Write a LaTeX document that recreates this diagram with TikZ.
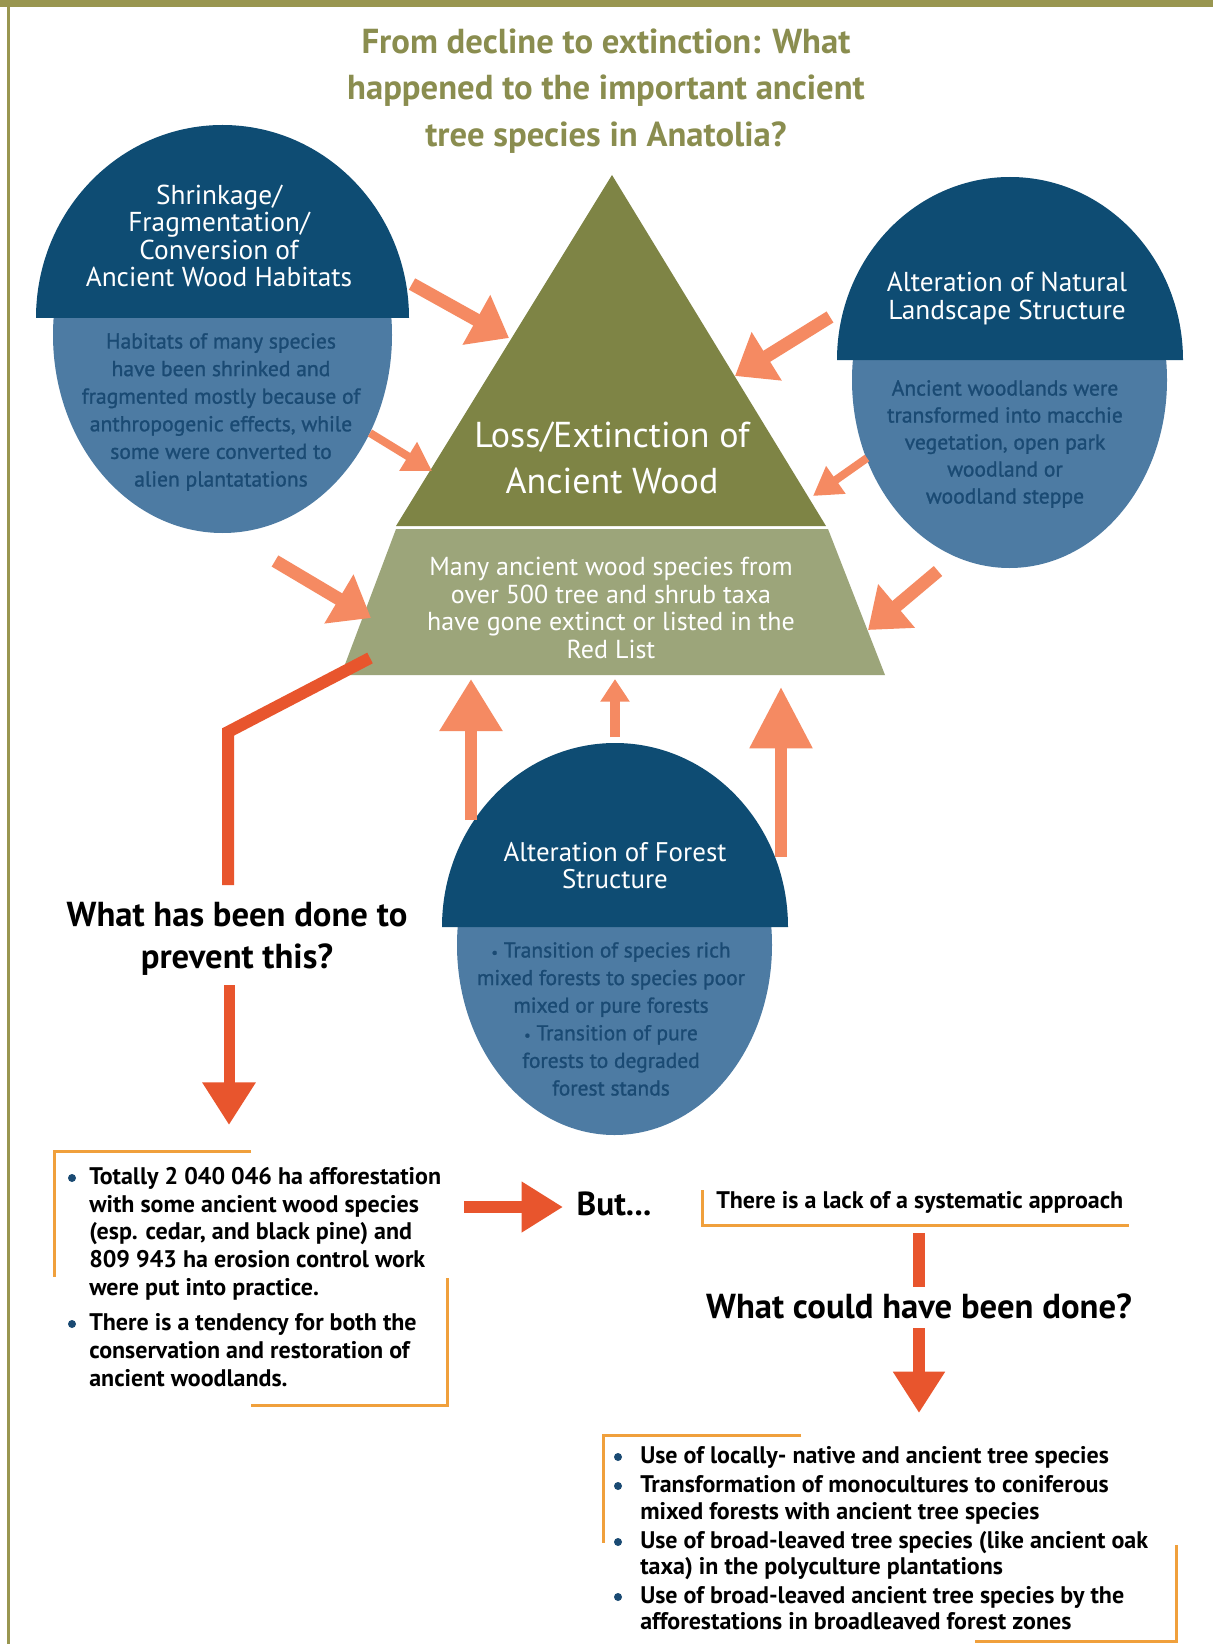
\documentclass[tikz,border=0pt]{standalone}
\usepackage{fontspec}
\setmainfont{PT Sans}
\newfontfamily\semib[FakeBold=1.2]{PT Sans}
\usetikzlibrary{arrows.meta}
\definecolor{frameol}{HTML}{999650}
\definecolor{titleol}{HTML}{8A8D4F}
\definecolor{trioldark}{HTML}{7E8445}
\definecolor{triollight}{HTML}{9CA57A}
\definecolor{domeblue}{HTML}{0E4C73}
\definecolor{ellblue}{HTML}{4D7BA3}
\definecolor{elltext}{HTML}{1A4A73}
\definecolor{salmon}{HTML}{F58A62}
\definecolor{redor}{HTML}{E8552D}
\definecolor{bracket}{HTML}{F0A03C}
\newcommand{\fs}[2]{\fontsize{#1}{#2}\selectfont}
\newcommand{\smbul}{{\fs{11pt}{11pt}•}}
\begin{document}
\begin{tikzpicture}[x=0.75pt,y=-0.75pt,
  txt/.style={inner sep=0pt, align=center},
  dometxt/.style={txt, text=white, font=\fs{20.5pt}{20.5pt}},
  elltxt/.style={txt, text=elltext, font=\semib\fs{16.2pt}{20.7pt}},
  blacktitle/.style={txt, text=black, font=\bfseries\fs{26pt}{31.5pt}},
  listline/.style={inner sep=0pt, anchor=base west, text=black, font=\bfseries\fs{18pt}{20pt}},
  bul/.style={circle, fill=elltext, inner sep=0pt, minimum size=6pt},
  bigsal/.style={draw=salmon, line width=9.75pt, -{Triangle[width=41pt,length=28pt]}},
  smallsal/.style={draw=salmon, line width=6pt, -{Triangle[width=24pt,length=21pt]}},
  upsal/.style={draw=salmon, line width=9pt, -{Triangle[width=45pt,length=39pt]}},
  redline/.style={draw=redor, line width=9pt, line join=miter},
  redarrow/.style={redline, -{Triangle[width=37pt,length=31pt]}},
  brk/.style={draw=bracket, line width=2.25pt}
]
\useasboundingbox (0,0) rectangle (1213,1644);
\fill[white] (0,0) rectangle (1213,1644);
% frame
\fill[frameol] (0,0) rectangle (1213,7.5);
\fill[frameol] (7,0) rectangle (10,1644);

% title
\node[txt, text=titleol, font=\bfseries\fs{26pt}{35pt}] (title) at (606,91)
  {From decline to extinction: What\\happened to the important ancient\\tree species in Anatolia?};

% central triangle and trapezoid
\fill[trioldark] (612,175) -- (826,526) -- (396,526) -- cycle;
\fill[triollight] (396,529) -- (828,529) -- (885,675) -- (341,675) -- cycle;
\node[txt, text=white, font=\fs{27pt}{35pt}] (loss) at (612,458) {Loss/Extinction of\\Ancient Wood};
\node[txt, text=white, font=\fs{19.5pt}{20.7pt}] (many) at (611,608)
  {Many ancient wood species from\\over 500 tree and shrub taxa\\have gone extinct or listed in the\\Red List};

% left group
\fill[ellblue] (222.5,335) ellipse[x radius=169.5, y radius=198];
\fill[domeblue] (36,318) arc[start angle=180, end angle=360, x radius=186.5, y radius=193] -- cycle;
\node[dometxt] (ldome) at (219,236) {Shrinkage/\\Fragmentation/\\Conversion of\\Ancient Wood Habitats};
\node[elltxt] (lell) at (221,412) {Habitats of many species\\have been shrinked and\\fragmented mostly because of\\anthropogenic effects, while\\some were converted to\\alien plantatations};

% right group
\fill[ellblue] (1009.5,380) ellipse[x radius=157.5, y radius=188];
\fill[domeblue] (837,360) arc[start angle=180, end angle=360, x radius=173, y radius=183] -- cycle;
\node[dometxt, font=\fs{20.5pt}{21pt}] (rdome) at (1007,299) {Alteration of Natural\\Landscape Structure};
\node[elltxt, font=\semib\fs{16.2pt}{20.25pt}] (rell) at (1005,444) {Ancient woodlands were\\transformed into macchie\\vegetation, open park\\woodland or\\woodland steppe};

% bottom group
\fill[ellblue] (614.5,945) ellipse[x radius=157.5, y radius=190];
\fill[domeblue] (442,927) arc[start angle=180, end angle=360, x radius=173, y radius=184] -- cycle;
\node[dometxt, font=\fs{20.2pt}{20.25pt}] (bdome) at (615,866) {Alteration of Forest\\Structure};
\node[elltxt, font=\semib\fs{16.1pt}{20.7pt}] (bell) at (611,1019) {\smbul{} Transition of species rich\\mixed forests to species poor\\mixed or pure forests\\\smbul{} Transition of pure\\forests to degraded\\forest stands};

% salmon arrows
\coordinate (a1t) at (412,284); \coordinate (a1h) at (509,338);
\coordinate (a2t) at (830,317); \coordinate (a2h) at (735,376);
\coordinate (a3t) at (370,433); \coordinate (a3h) at (432,471);
\coordinate (a4t) at (867,458); \coordinate (a4h) at (813,496);
\coordinate (a5t) at (275,561); \coordinate (a5h) at (371,618);
\coordinate (a6t) at (938,571); \coordinate (a6h) at (868,630);
\coordinate (a7t) at (471,820); \coordinate (a7h) at (471,679);
\coordinate (a8t) at (615,737); \coordinate (a8h) at (615,679);
\coordinate (a9t) at (781,857); \coordinate (a9h) at (781,687);
\draw[bigsal] (a1t) -- (a1h);
\draw[bigsal] (a2t) -- (a2h);
\draw[smallsal] (a3t) -- (a3h);
\draw[smallsal] (a4t) -- (a4h);
\draw[bigsal] (a5t) -- (a5h);
\draw[bigsal] (a6t) -- (a6h);
\draw[upsal] (a7t) -- (a7h);
\draw[draw=salmon, line width=7.5pt, -{Triangle[width=21pt,length=17pt]}] (a8t) -- (a8h);
\draw[upsal, -{Triangle[width=45pt,length=46pt]}] (a9t) -- (a9h);

% what has been done
\coordinate (p0) at (370,658); \coordinate (p1) at (228,732); \coordinate (p2) at (228,885);
\draw[redline] (p0) -- (p1) -- (p2);
\node[blacktitle] (q1) at (237,939) {What has been done to\\prevent this?};
\coordinate (d1t) at (229,985); \coordinate (d1h) at (229,1125);
\draw[redarrow, line width=8.25pt, -{Triangle[width=38pt,length=32pt]}] (d1t) -- (d1h);

% left list
\draw[brk] (251,1151) -- (54,1151) -- (54,1277);
\draw[brk] (447,1278) -- (447,1405) -- (251,1405);
\node[bul] (lb1) at (72,1178) {};
\node[bul] (lb2) at (72,1324) {};
\node[listline] (l1) at (89,1184) {Totally 2 040 046 ha afforestation};
\node[listline] (l2) at (89,1212) {with some ancient wood species};
\node[listline] (l3) at (89,1239) {(esp. cedar, and black pine) and};
\node[listline] (l4) at (89,1267) {809 943 ha erosion control work};
\node[listline] (l5) at (89,1295) {were put into practice.};
\node[listline] (l6) at (89,1330) {There is a tendency for both the};
\node[listline] (l7) at (89,1358) {conservation and restoration of};
\node[listline] (l8) at (89,1386) {ancient woodlands.};

% but
\coordinate (b1t) at (464,1207); \coordinate (b1h) at (563,1207);
\draw[redarrow, line width=9.5pt, -{Triangle[width=36pt,length=31pt]}] (b1t) -- (b1h);
\node[txt, text=black, font=\bfseries\fs{25pt}{25pt}] (but) at (614,1204) {But...};

% lack
\draw[brk] (702,1190) -- (702,1225) -- (1129,1225);
\node[listline, anchor=west] (lack) at (716,1202) {There is a lack of a systematic approach};
\coordinate (s1t) at (919,1233); \coordinate (s1h) at (919,1287);
\draw[redline] (s1t) -- (s1h);
\node[blacktitle] (q2) at (919,1306) {What could have been done?};
\coordinate (d2t) at (919,1328); \coordinate (d2h) at (919,1413);
\draw[redarrow] (d2t) -- (d2h);

% bottom list
\draw[brk] (801,1435) -- (603,1435) -- (603,1543);
\draw[brk] (1176,1545) -- (1176,1641) -- (975,1641);
\node[bul] (rb1) at (618,1457) {};
\node[bul] (rb2) at (618,1486) {};
\node[bul] (rb3) at (618,1542) {};
\node[bul] (rb4) at (618,1597) {};
\node[listline] (r1) at (640,1463) {Use of locally- native and ancient tree species};
\node[listline] (r2) at (640,1492) {Transformation of monocultures to coniferous};
\node[listline] (r3) at (640,1519) {mixed forests with ancient tree species};
\node[listline] (r4) at (640,1548) {Use of broad-leaved tree species (like ancient oak};
\node[listline] (r5) at (640,1574) {taxa) in the polyculture plantations};
\node[listline] (r6) at (640,1603) {Use of broad-leaved ancient tree species by the};
\node[listline] (r7) at (640,1629) {afforestations in broadleaved forest zones};
\end{tikzpicture}
\end{document}
